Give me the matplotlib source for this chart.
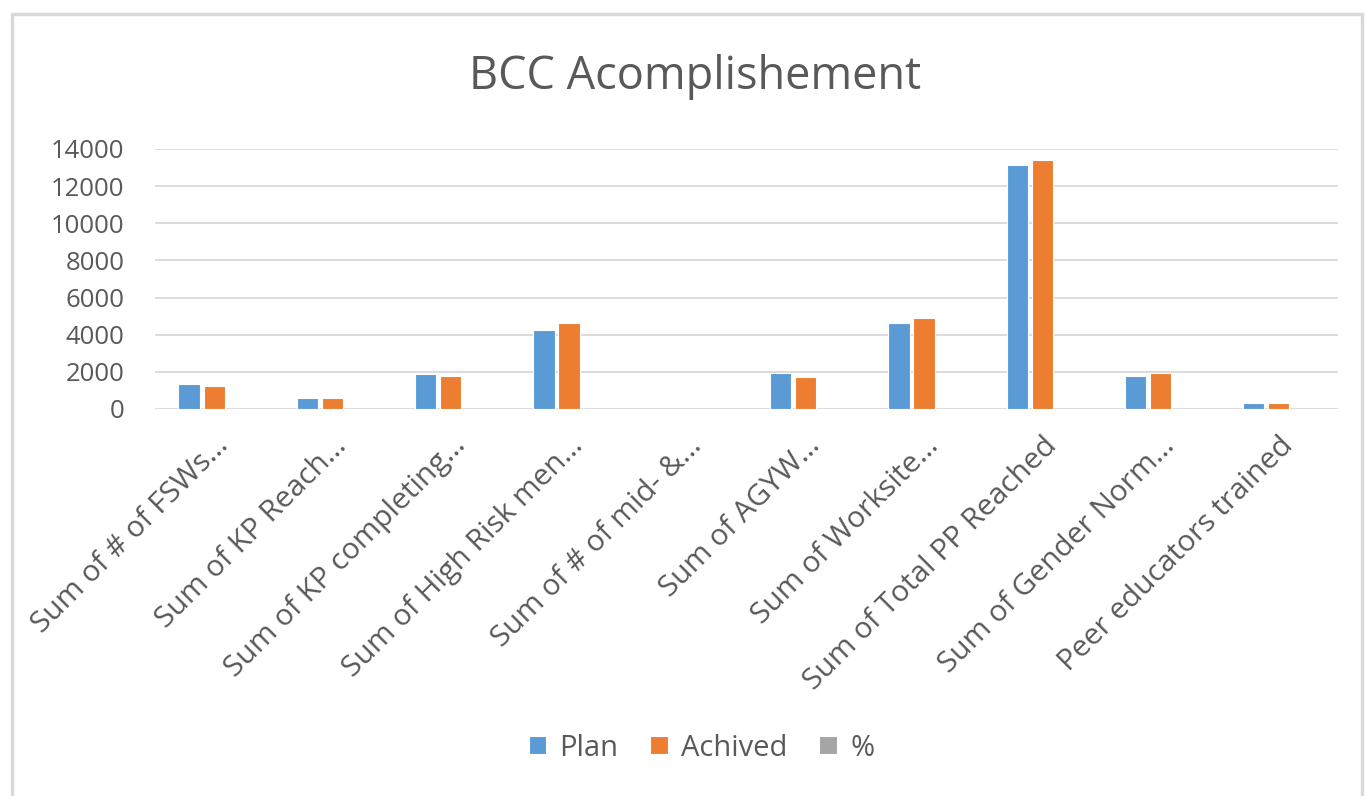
import numpy as np
import matplotlib
matplotlib.use("Agg")
from matplotlib import pyplot as plt
from matplotlib.patches import Rectangle

categories = ["Sum of # of FSWs…", "Sum of KP Reach…", "Sum of KP completing…",
              "Sum of High Risk men…", "Sum of # of mid- &…", "Sum of AGYW…",
              "Sum of Worksite…", "Sum of Total PP Reached", "Sum of Gender Norm…",
              "Peer educators trained"]
plan = [1340, 580, 1900, 4230, 0, 1960, 4610, 13120, 1790, 300]
achived = [1240, 570, 1790, 4610, 0, 1700, 4880, 13390, 1960, 300]
percent = [0.9, 1.0, 0.9, 1.1, 0, 0.9, 1.1, 1.0, 1.1, 1.0]
yticks = [0, 2000, 4000, 6000, 8000, 10000, 12000, 14000]

BLUE = "#5B9BD5"
ORANGE = "#ED7D31"
GRAY = "#A5A5A5"
TEXT = "#595959"

plt.rcParams['font.family'] = ['Open Sans', 'DejaVu Sans']

fig = plt.figure(figsize=(13.7, 7.96), dpi=100)
# chart frame
fig.patches.append(Rectangle((12 / 1370, -0.01), (1362 - 12) / 1370, 1 - 14 / 796 + 0.01,
                             transform=fig.transFigure, fill=False,
                             edgecolor="#D9D9D9", linewidth=2.5))

ax = fig.add_axes([155 / 1370, 1 - 409 / 796, (1338 - 155) / 1370, (409 - 149) / 796])
x = np.arange(len(categories))
w = 0.18
step = 0.212
ax.bar(x - step, plan, w, color=BLUE, edgecolor="white", linewidth=0.8, label="Plan", zorder=3)
ax.bar(x, achived, w, color=ORANGE, edgecolor="white", linewidth=0.8, label="Achived", zorder=3)
ax.bar(x + step, percent, w, color=GRAY, edgecolor="white", linewidth=0.8, label="%", zorder=3)

ax.set_xlim(-0.5, len(categories) - 0.5)
ax.set_ylim(0, 14000)
ax.set_yticks(yticks)
ax.set_yticklabels([str(v) for v in yticks], fontsize=18.5, color=TEXT)
ax.set_xticks(x)
ax.set_xticklabels(categories, rotation=45, ha="right", rotation_mode="anchor",
                   fontsize=21.5, color=TEXT)
ax.tick_params(axis="y", length=0, pad=22)
ax.tick_params(axis="x", length=0, pad=16)
ax.yaxis.grid(True, color="#D9D9D9", linewidth=1.3, zorder=0)
for s in ax.spines.values():
    s.set_visible(False)

fig.text(0.507, 1 - 77 / 796, "BCC Acomplishement", ha="center", va="center",
         fontsize=32.5, color=TEXT)

fig.legend(loc="center", bbox_to_anchor=(0.512, 1 - 748 / 796), ncol=3, frameon=False,
           fontsize=21, handlelength=0.6, handleheight=0.6, columnspacing=1.1,
           handletextpad=0.45, labelcolor=TEXT)

fig.savefig("out.png", dpi=100, facecolor="white")
